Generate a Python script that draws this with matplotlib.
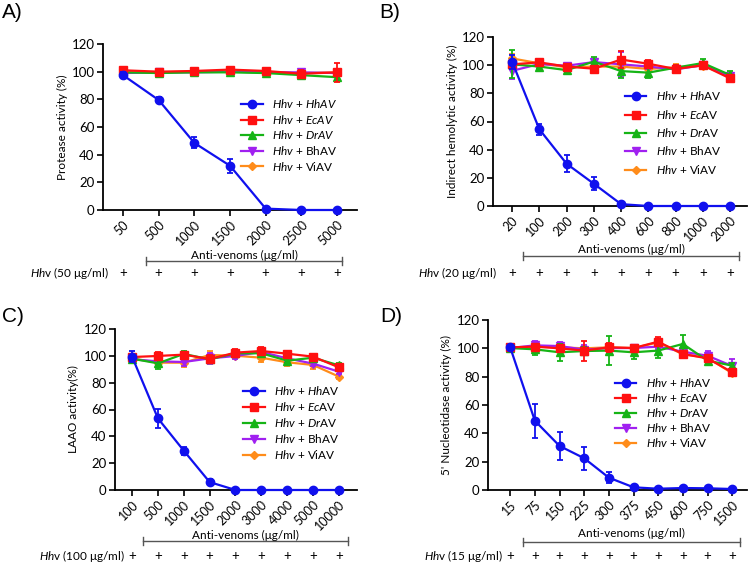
import numpy as np
import matplotlib
matplotlib.use('Agg')
import matplotlib.pyplot as plt
import matplotlib.transforms as mtransforms
from matplotlib.lines import Line2D

plt.rcParams['font.family'] = ['Lato', 'DejaVu Sans']
plt.rcParams['mathtext.fontset'] = 'custom'
plt.rcParams['mathtext.rm'] = 'Lato'
plt.rcParams['mathtext.it'] = 'Lato:italic'

# ---- data ----
# A) protease
a_conc = ['50', '500', '1000', '1500', '2000', '2500', '5000']
a_hh = [97.5, 79.5, 48.5, 32, 1, 0, 0]
a_hh_err = [2, 2, 4, 5, 0.5, 0.3, 0.3]
a_ec = [101, 100, 100.5, 101.5, 100.5, 98.5, 99.5]
a_ec_err = [0.5, 0.5, 0.5, 1, 0.5, 3, 7]
a_dr = [99.5, 99, 99.5, 99.5, 99, 97.5, 96]
a_dr_err = [0.5, 0.5, 0.5, 0.5, 0.5, 1, 2]
a_bh = [99, 99.5, 99.5, 100, 99.5, 99.5, 99]
a_bh_err = [0.5, 0.5, 0.5, 0.5, 0.5, 2, 1]
a_vi = [99.5, 99.5, 100, 100, 99.5, 99, 99.5]
a_vi_err = [0.5, 0.5, 0.5, 0.5, 0.5, 1, 1]

# B) indirect hemolytic
b_conc = ['20', '100', '200', '300', '400', '600', '800', '1000', '2000']
b_hh = [102.5, 54.5, 30, 15.8, 1.3, 0, 0, 0, 0]
b_hh_err = [5, 4, 6, 4.5, 0.5, 0.3, 0.3, 0.3, 0.3]
b_ec = [100.6, 102, 99, 97.5, 104, 101, 97.3, 99.9, 90.6]
b_ec_err = [3, 2, 2, 2, 6, 3, 3, 2, 2]
b_dr = [100.6, 99, 96.5, 102.5, 95.8, 94.7, 98.2, 101.5, 93]
b_dr_err = [10, 2, 2, 3, 5, 4, 2, 3, 3]
b_bh = [96, 100.8, 99.6, 102.2, 100.6, 99, 97, 100, 92]
b_bh_err = [6, 2, 2, 2, 9, 2, 2, 2, 2]
b_vi = [104.8, 101.3, 98.5, 99, 99, 97.3, 98.5, 99.6, 92]
b_vi_err = [3, 2, 2, 2, 2, 3, 2, 2, 2]

# C) LAAO
c_conc = ['100', '500', '1000', '1500', '2000', '3000', '4000', '5000', '10000']
c_hh = [99.4, 53.4, 29.3, 5.9, 0, 0, 0, 0, 0]
c_hh_err = [4, 7, 3, 2.5, 0.3, 0.3, 0.3, 0.3, 0.3]
c_ec = [99.1, 99.9, 100.9, 97.6, 102.4, 103.6, 101.6, 99.4, 91.4]
c_ec_err = [2, 3, 2, 3, 3, 3, 2, 2, 2]
c_dr = [97.9, 94.4, 101.4, 97.4, 101.9, 101.9, 96.4, 98.6, 92.9]
c_dr_err = [2, 4, 2, 2, 2, 2, 2, 2, 2]
c_bh = [97.4, 95.9, 95.4, 98.1, 99.9, 102.9, 98.1, 94.2, 88.2]
c_bh_err = [2, 2, 3, 4, 2, 2, 2, 2, 2]
c_vi = [98.1, 94.9, 94.9, 100.6, 100.1, 98.6, 95.2, 93.2, 84.5]
c_vi_err = [2, 2, 3, 3, 2, 3, 3, 3, 2]

# D) 5' nucleotidase
d_conc = ['15', '75', '150', '225', '300', '375', '450', '600', '750', '1500']
d_hh = [100.7, 48.9, 31.1, 22.4, 8.7, 1.9, 0.9, 1.4, 1.2, 0.7]
d_hh_err = [2, 12, 10, 8, 4, 0.5, 0.5, 0.5, 0.5, 0.5]
d_ec = [100.7, 101.2, 100, 98.4, 100.7, 100.2, 104.7, 96, 92.9, 83.1]
d_ec_err = [1, 2, 2, 7, 3, 2, 3, 2, 2, 2]
d_dr = [100.2, 99.3, 97.2, 98.1, 98.4, 97.2, 98.4, 103.1, 91.3, 87.8]
d_dr_err = [2, 4, 6, 3, 10, 5, 5, 6, 2, 2]
d_bh = [100.2, 102.1, 101.6, 99.1, 100.2, 100.2, 101.2, 97.6, 94.8, 87.5]
d_bh_err = [1, 3, 3, 3, 2, 2, 2, 4, 3, 5]
d_vi = [100.2, 101.2, 100.7, 100, 100.7, 100.2, 104.2, 95.8, 93.4, 82.4]
d_vi_err = [1, 2, 2, 2, 2, 2, 2, 2, 2, 2]

colors = ['#1010ee', '#ff1010', '#16b416', '#a020f0', '#ff8c1a']
markers = ['o', 's', '^', 'v', 'D']
sizes = [6, 6, 6, 6, 4]

labels_a = [r'$\mathit{Hhv}$ + $\mathit{HhAV}$', r'$\mathit{Hhv}$ + $\mathit{EcAV}$',
            r'$\mathit{Hhv}$ + $\mathit{DrAV}$', r'$\mathit{Hhv}$ + BhAV', r'$\mathit{Hhv}$ + ViAV']
labels_bcd = [r'$\mathit{Hhv}$ + $\mathit{Hh}$AV', r'$\mathit{Hhv}$ + $\mathit{Ec}$AV',
              r'$\mathit{Hhv}$ + $\mathit{Dr}$AV', r'$\mathit{Hhv}$ + BhAV', r'$\mathit{Hhv}$ + ViAV']

W, H = 750, 564
fig = plt.figure(figsize=(7.5, 5.64), dpi=100)


def fy(pix):
    return 1 - pix / H


def panel(px, conc, series, errs, labels, ylabel, hhv, leg, lspace, xmargin,
          avy, bry, plusy, bracket, hhv_x):
    left, right, top, bottom = px
    ax = fig.add_axes([left / W, 1 - bottom / H, (right - left) / W, (bottom - top) / H])
    x = np.arange(len(conc))
    # ViAV first, HhAV last so it ends up on top
    for i in [4, 3, 2, 1, 0]:
        ax.errorbar(x, series[i], yerr=errs[i], color=colors[i], marker=markers[i],
                    ms=sizes[i], lw=1.6, elinewidth=1.3, capsize=2.5, capthick=1.3,
                    clip_on=False, zorder=3 + (5 - i))
    handles = [Line2D([], [], color=colors[i], marker=markers[i], ms=sizes[i], lw=1.6)
               for i in range(5)]
    ax.set_xlim(-xmargin[0], len(conc) - 1 + xmargin[1])
    ax.set_ylim(0, 120)
    ax.set_yticks(range(0, 121, 20))
    ax.set_xticks(x)
    ax.set_xticklabels(conc, rotation=45, ha='right', rotation_mode='anchor', fontsize=9)
    ax.tick_params(axis='x', pad=2)
    ax.tick_params(axis='y', labelsize=9.5, pad=2)
    ax.tick_params(direction='out', length=4, width=1.2)
    for s in ['top', 'right']:
        ax.spines[s].set_visible(False)
    for s in ['left', 'bottom']:
        ax.spines[s].set_linewidth(1.3)
    ax.set_ylabel(ylabel, fontsize=8.5, labelpad=3)
    ax.legend(handles, labels, loc='upper left', bbox_to_anchor=leg, frameon=False,
              fontsize=8.5, handlelength=1.8, handletextpad=0.8, labelspacing=lspace,
              borderaxespad=0, borderpad=0)

    tr = mtransforms.blended_transform_factory(ax.transData, fig.transFigure)
    b0, b1 = bracket
    ax.plot([b0, b1], [fy(bry), fy(bry)], transform=tr, color='#555555', lw=1,
            clip_on=False)
    for bx in (b0, b1):
        ax.plot([bx, bx], [fy(bry - 4), fy(bry + 4)], transform=tr, color='#555555',
                lw=1, clip_on=False)
    ax.text((b0 + b1) / 2, fy(avy), 'Anti-venoms (μg/ml)', transform=tr,
            ha='center', va='center', fontsize=8.5)
    for xi in x:
        ax.text(xi, fy(plusy), '+', transform=tr, ha='center', va='center', fontsize=9.5)
    ax.text(hhv_x, fy(plusy), hhv, transform=tr, ha='right', va='center', fontsize=8.5)
    return ax


panel((103, 357, 44, 210), a_conc, [a_hh, a_ec, a_dr, a_bh, a_vi],
      [a_hh_err, a_ec_err, a_dr_err, a_bh_err, a_vi_err], labels_a,
      'Protease activity (%)', r'$\mathit{Hh}$v (50 μg/ml)', (0.545, 0.68), 0.22,
      (0.56, 0.56), 255, 261, 273, (0.65, 6.15), -0.4)

panel((493, 747, 37, 206), b_conc, [b_hh, b_ec, b_dr, b_bh, b_vi],
      [b_hh_err, b_ec_err, b_dr_err, b_bh_err, b_vi_err], labels_bcd,
      'Indirect hemolytic activity (%)', r'$\mathit{Hh}$v (20 μg/ml)', (0.52, 0.69), 0.45,
      (0.7, 0.62), 249, 256, 273, (0.4, 8.33), -0.55)

panel((115, 357, 329, 490), c_conc, [c_hh, c_ec, c_dr, c_bh, c_vi],
      [c_hh_err, c_ec_err, c_dr_err, c_bh_err, c_vi_err], labels_bcd,
      'LAAO activity(%)', r'$\mathit{Hh}$v (100 μg/ml)', (0.53, 0.66), 0.26,
      (0.66, 0.7), 535, 541, 556, (0.42, 8.34), -0.3)

panel((488, 747, 320, 490), d_conc, [d_hh, d_ec, d_dr, d_bh, d_vi],
      [d_hh_err, d_ec_err, d_dr_err, d_bh_err, d_vi_err], labels_bcd,
      "5' Nucleotidase activity (%)", r'$\mathit{Hh}$v (15 μg/ml)', (0.49, 0.67), 0.17,
      (0.9, 0.6), 533, 542, 556, (0.53, 9.31), -0.3)

for lab, xp, yp in [('A)', 2, 13), ('B)', 379, 13), ('C)', 2, 316), ('D)', 380, 316)]:
    fig.text(xp / W, fy(yp), lab, fontsize=15, ha='left', va='center',
             family=['Liberation Sans', 'DejaVu Sans'])

fig.savefig('out.png', dpi=100)
